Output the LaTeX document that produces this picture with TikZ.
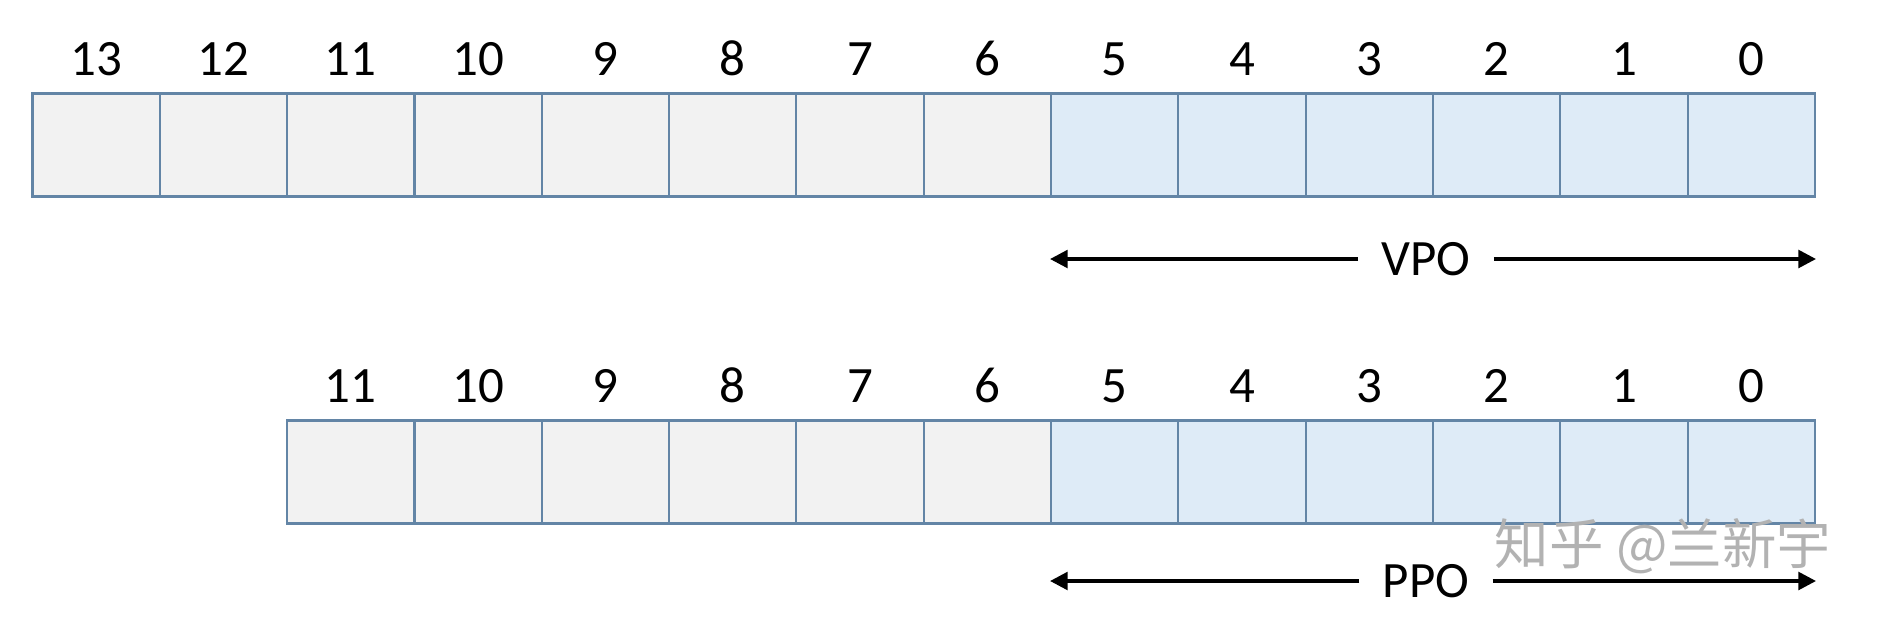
\documentclass[tikz,border=0pt]{standalone}
\usepackage{fontspec}
\setmainfont{Carlito}
\newfontfamily\cjk{Noto Sans CJK SC}
\usetikzlibrary{positioning,arrows.meta}
\definecolor{cellline}{HTML}{6385A6}
\definecolor{grayfill}{HTML}{F2F2F2}
\definecolor{bluefill}{HTML}{DEEBF7}
\begin{document}
\begin{tikzpicture}[x=0.02cm, y=-0.02cm,
  cell/.style={draw=cellline, line width=1.2pt, minimum width=2.5464cm, minimum height=2.06cm, inner sep=0},
  bitnum/.style={inner sep=0, font=\fontsize{29}{34}\selectfont},
  offs/.style={inner xsep=0.46cm, inner ysep=0, font=\fontsize{29}{34}\selectfont},
  arr/.style={line width=2pt, -{Triangle[length=10pt, width=10pt]}}]
\useasboundingbox (0,0) rectangle (1886,616);
% virtual address
\foreach \b in {13,...,6}
  \node [cell, fill=grayfill] (t\b) at ({32.5+(13-\b+0.5)*127.32}, 145) {};
\foreach \b in {5,...,0}
  \node [cell, fill=bluefill] (t\b) at ({32.5+(13-\b+0.5)*127.32}, 145) {};
\foreach \b in {13,...,0}
  \node [bitnum, above=0.33cm of t\b] {\b};
\node [offs] (vpo) at (1426, 259) {VPO};
\coordinate (vpoL) at (t5.west |- vpo);
\coordinate (vpoR) at (t0.east |- vpo);
\draw [arr] (vpo) -- (vpoL);
\draw [arr] (vpo) -- (vpoR);
% physical address
\foreach \b in {11,...,6}
  \node [cell, fill=grayfill] (p\b) at ({32.5+(13-\b+0.5)*127.32}, 472) {};
\foreach \b in {5,...,0}
  \node [cell, fill=bluefill] (p\b) at ({32.5+(13-\b+0.5)*127.32}, 472) {};
\foreach \b in {11,...,0}
  \node [bitnum, above=0.33cm of p\b] {\b};
\node [offs] (ppo) at (1426, 581) {PPO};
\coordinate (ppoL) at (p5.west |- ppo);
\coordinate (ppoR) at (p0.east |- ppo);
\draw [arr] (ppo) -- (ppoL);
\draw [arr] (ppo) -- (ppoR);
% watermark
\node [text=black!30, font=\cjk\fontsize{31}{36}\selectfont] (mark) at (1663, 546) {知乎 @兰新宇};
\end{tikzpicture}
\end{document}
